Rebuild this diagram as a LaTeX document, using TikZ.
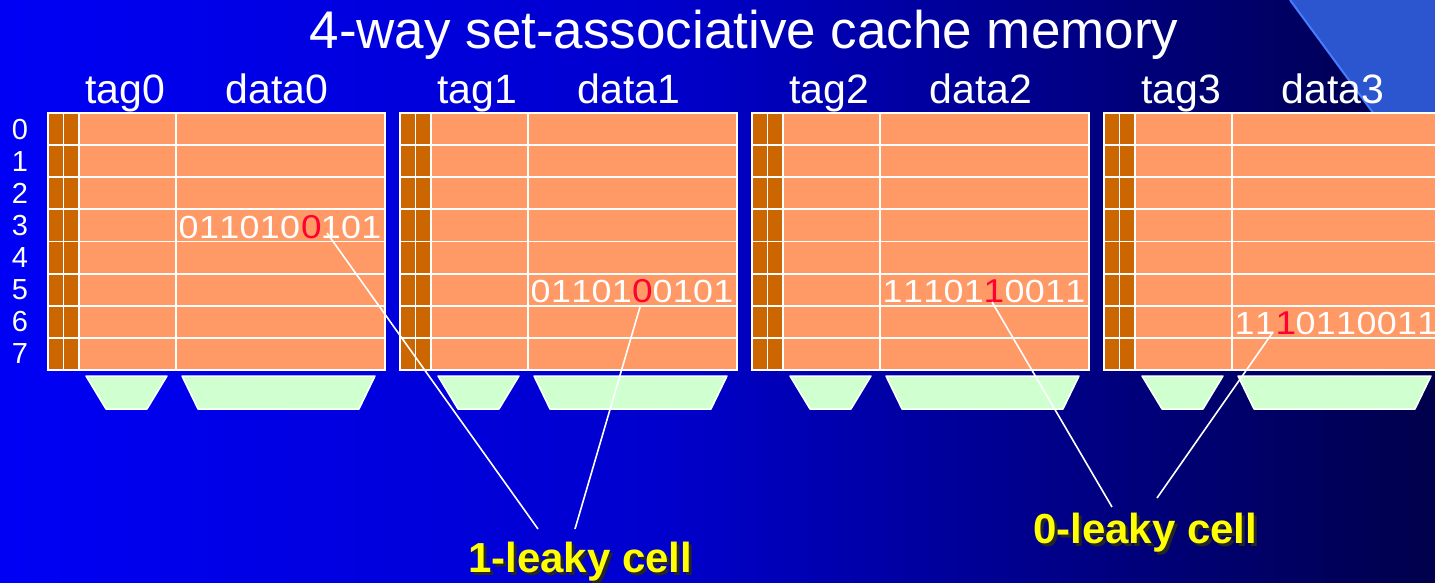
\documentclass[tikz,border=0pt]{standalone}
\usepackage{graphicx}
\usepackage{fontspec}
\setmainfont{Liberation Sans}
\definecolor{bgA}{RGB}{0,0,245}
\definecolor{bgB}{RGB}{0,0,205}
\definecolor{bgC}{RGB}{0,0,125}
\definecolor{bgD}{RGB}{0,0,75}
\definecolor{tri}{RGB}{44,86,208}
\definecolor{triedge}{RGB}{70,125,255}
\definecolor{cache}{RGB}{255,153,102}
\definecolor{brownc}{RGB}{204,102,0}
\definecolor{muxg}{RGB}{208,255,208}
\definecolor{leak}{RGB}{255,0,51}
\definecolor{lblyellow}{RGB}{255,255,0}
\pgfdeclarehorizontalshading{bgshade}{100bp}{color(0bp)=(bgA); color(25bp)=(bgA); color(48bp)=(bgB); color(64bp)=(bgC); color(75bp)=(bgD); color(100bp)=(bgD)}
\newcommand\dg[1]{\makebox[20.3pt]{\scalebox{1.12}[1]{#1}}}
\newcommand\shadowed[1]{\rlap{\hspace{3pt}\raisebox{-3pt}{\color{black!85}#1}}#1}
\tikzset{
  grid/.style={draw=white, line width=1.8pt},
  mux/.style={fill=muxg, draw=white, line width=1.5pt, line join=round},
  conn/.style={draw=white, line width=1.6pt},
  hdr/.style={text=white, font=\fontsize{41}{45}\selectfont, inner sep=0pt, anchor=base},
  rowlbl/.style={text=white, font=\fontsize{29}{32}\selectfont, inner sep=0pt, anchor=center},
  bits/.style={text=white, font=\fontsize{32}{36}\selectfont, inner sep=0pt, anchor=west},
  redbit/.style={text=leak, font=\fontsize{33}{36}\selectfont, inner sep=0pt, anchor=center},
  leaky/.style={text=lblyellow, font=\bfseries\fontsize{42}{46}\selectfont, inner sep=0pt, anchor=base west}
}
\begin{document}
\begin{tikzpicture}[x=1pt,y=-1pt]
\useasboundingbox (0,0) rectangle (1435,582);
\clip (0,0) rectangle (1435,582);
\shade[shading=bgshade] (0,0) rectangle (1435,582);
\fill[tri] (1290,0) -- (1435,0) -- (1435,197) -- cycle;
\draw[triedge, line width=2pt] (1290,0) -- (1435,197);
% title
\node[text=white, font=\fontsize{53}{58}\selectfont, inner sep=0pt, anchor=base] (title) at (744,48) {4-way set-associative cache memory};
% ways
\foreach \k/\x in {0/48,1/400,2/752,3/1104} {
  \fill[cache] (\x,113) rectangle ++(337,257);
  \fill[brownc] (\x,113) rectangle ++(31,257);
  \foreach \i in {1,...,7} \draw[grid] (\x,{113+32.125*\i}) -- ++(337,0);
  \draw[grid] (\x+15.5,113) -- ++(0,257);
  \draw[grid] (\x+31,113) -- ++(0,257);
  \draw[grid] (\x+128,113) -- ++(0,257);
  \draw[grid] (\x,113) rectangle ++(337,257);
  \node[hdr] (tag\k) at (\x+77,103) {tag\k};
  \node[hdr] (data\k) at (\x+229,103) {data\k};
  \draw[mux] (\x+38,376) -- (\x+119,376) -- (\x+99,409) -- (\x+58,409) -- cycle;
  \draw[mux] (\x+134,376) -- (\x+327,376) -- (\x+311,409) -- (\x+150,409) -- cycle;
}
% row numbers
\foreach \i in {0,...,7} \node[rowlbl] (row\i) at (20,{113+32.125*(\i+0.5)}) {\i};
% stored words
\node[bits] (w0) at (178.35,227) {\dg0\dg1\dg1\dg0\dg1\dg0\dg{}\dg1\dg0\dg1};
\node[redbit] (r0) at (311.5,227) {\dg0};
\node[bits] (w1) at (530.35,291) {\dg0\dg1\dg1\dg0\dg1\dg{}\dg0\dg1\dg0\dg1};
\node[redbit] (r1) at (642.5,291) {\dg0};
\node[bits] (w2) at (882.35,291) {\dg1\dg1\dg1\dg0\dg1\dg{}\dg0\dg0\dg1\dg1};
\node[redbit] (r2) at (994,291) {\dg1};
\node[bits] (w3) at (1234.35,323) {\dg1\dg1\dg{}\dg0\dg1\dg1\dg0\dg0\dg1\dg1};
\node[redbit] (r3) at (1286,323) {\dg1};
% labels
\node[leaky] (L1) at (468,572) {\shadowed{1-leaky cell}};
\node[leaky] (L0) at (1033,543) {\shadowed{0-leaky cell}};
% connector end points
\coordinate (p0) at (327,233);
\coordinate (p1) at (640,307);
\coordinate (p2) at (992,302);
\coordinate (p3) at (1273,332);
\coordinate (e0) at (538,529);
\coordinate (e1) at (575,529);
\coordinate (e2) at (1112,507);
\coordinate (e3) at (1157,498);
\draw[conn] (p0) -- (e0);
\draw[conn] (p1) -- (e1);
\draw[conn] (p2) -- (e2);
\draw[conn] (p3) -- (e3);
\end{tikzpicture}
\end{document}
